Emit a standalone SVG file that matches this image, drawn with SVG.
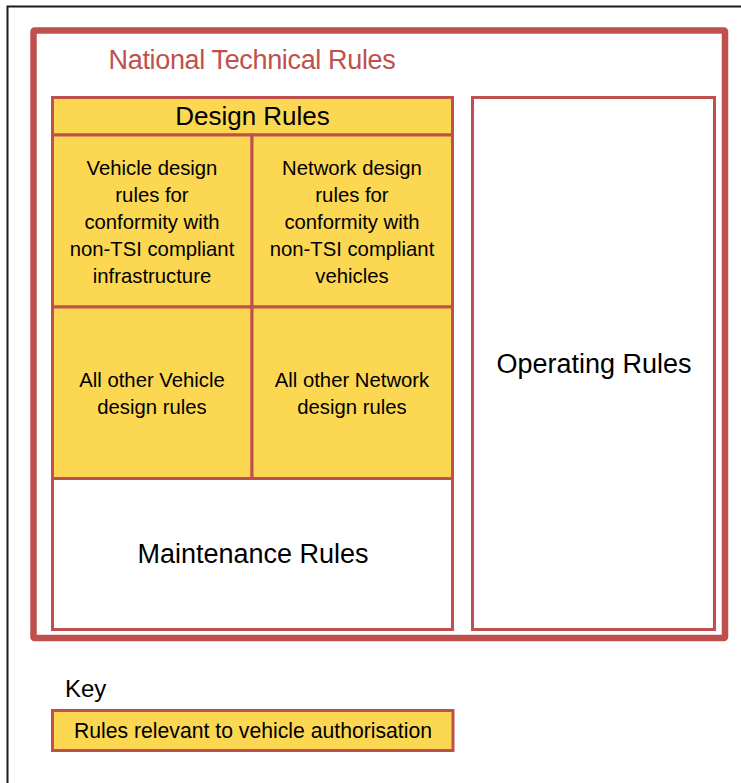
<svg xmlns="http://www.w3.org/2000/svg" width="741" height="783" viewBox="0 0 741 783">
<style>
text{font-family:"Liberation Sans",Arial,sans-serif;fill:#000;text-anchor:middle}
.y{fill:#fcd752;stroke:#c0504d;stroke-width:3}
.w{fill:#fff;stroke:#c0504d;stroke-width:3}
.c{font-size:20.3px}
.big{font-size:27px}
</style>
<rect width="741" height="783" fill="#fff"/>
<path d="M7.5,783 V6.5 H741" fill="none" stroke="#1a1a1a" stroke-width="2"/>
<g id="national-technical-rules">
<rect x="33.5" y="30.5" width="691.5" height="607.5" fill="#fff" stroke="#c0504d" stroke-width="6.5" rx="1"/>
<text x="252" y="69" style="font-size:27px;fill:#c0504d;letter-spacing:-0.35px">National Technical Rules</text>
</g>
<g id="design-rules">
<rect class="y" x="52.5" y="97.5" width="400" height="37.5"/>
<text x="252.5" y="125" style="font-size:26px">Design Rules</text>
</g>
<g id="vehicle-design-rules">
<rect class="y" x="52.5" y="135" width="199.5" height="172"/>
<text class="c" x="152" y="174.5">Vehicle design</text>
<text class="c" x="152" y="201.5">rules for</text>
<text class="c" x="152" y="228.5">conformity with</text>
<text class="c" x="152" y="255.5">non-TSI compliant</text>
<text class="c" x="152" y="282.5">infrastructure</text>
</g>
<g id="network-design-rules">
<rect class="y" x="252" y="135" width="200.5" height="172"/>
<text class="c" x="352" y="174.5">Network design</text>
<text class="c" x="352" y="201.5">rules for</text>
<text class="c" x="352" y="228.5">conformity with</text>
<text class="c" x="352" y="255.5">non-TSI compliant</text>
<text class="c" x="352" y="282.5">vehicles</text>
</g>
<g id="other-vehicle-rules">
<rect class="y" x="52.5" y="307" width="199.5" height="171.5"/>
<text class="c" x="152" y="386.5">All other Vehicle</text>
<text class="c" x="152" y="414">design rules</text>
</g>
<g id="other-network-rules">
<rect class="y" x="252" y="307" width="200.5" height="171.5"/>
<text class="c" x="352" y="386.5">All other Network</text>
<text class="c" x="352" y="414">design rules</text>
</g>
<g id="maintenance-rules">
<rect class="w" x="52.5" y="478.5" width="400" height="151"/>
<text class="big" x="253" y="563">Maintenance Rules</text>
</g>
<g id="operating-rules">
<rect class="w" x="472.5" y="97.5" width="242" height="532"/>
<text class="big" x="594" y="372.5">Operating Rules</text>
</g>
<g id="key">
<text x="65" y="697" style="font-size:24px;text-anchor:start">Key</text>
<rect class="y" x="52.5" y="710.5" width="400.5" height="40"/>
<text x="253" y="737.5" style="font-size:21.2px">Rules relevant to vehicle authorisation</text>
</g>
<g id="connectors"></g>
</svg>
